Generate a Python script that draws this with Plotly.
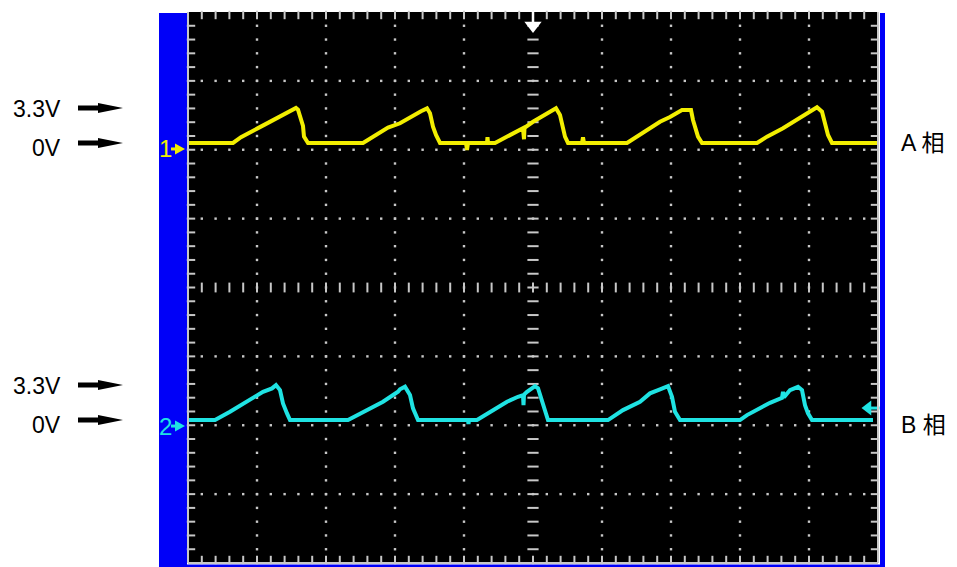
import plotly.graph_objects as go

# ---------------- data ----------------
# time in sample units (0..690 across 10 divisions), voltage in volts
CH1_T = [0, 45, 53, 62, 70, 79, 87, 95, 103, 108, 110, 115, 116, 120,
         175, 183, 192, 200, 212, 218, 225, 233, 239, 242, 245, 248, 252,
         278, 279, 280, 299, 299.5, 300,
         307, 319, 329, 335, 336, 336.5, 345, 359, 368, 372, 375, 377, 380,
         394, 395, 396,
         439, 447, 456, 462, 472, 482, 494, 503, 505, 510, 514,
         569, 579, 595, 612, 622, 629, 634, 637, 640, 644, 690]
CH1_V = [0, 0, 0.55, 1.05, 1.4, 1.85, 2.25, 2.65, 3.1, 3.3, 3.15, 1.6, 0.6, 0,
         0, 0.5, 1.0, 1.45, 1.86, 2.2, 2.64, 3.0, 3.27, 2.8, 1.54, 0.75, 0,
         0, -0.66, 0, 0, 0.54, 0,
         0, 0.6, 1.07, 1.39, 0.35, 1.42, 2.0, 2.8, 3.27, 2.64, 1.39, 0.6, 0,
         0, 0.54, 0,
         0, 0.5, 1.0, 1.39, 2.0, 2.45, 3.1, 3.1, 2.17, 0.6, 0,
         0, 0.6, 1.39, 2.33, 2.95, 3.37, 2.95, 1.86, 0.75, 0, 0]

CH2_T = [0, 27, 42, 59, 75, 84, 88, 92, 95, 99, 102,
         160, 175, 195, 210, 212, 217, 222, 225, 229, 230,
         280, 280.5, 281,
         289, 302, 319, 330, 335, 335.5, 336, 339, 347, 350, 354, 357, 360,
         420, 435, 452, 462, 472, 480, 484, 487, 492,
         552, 559, 569, 582, 594, 595, 596, 602, 610, 614, 617, 620, 624, 685]
CH2_V = [0, 0, 0.78, 1.73, 2.67, 2.99, 3.3, 2.83, 1.57, 0.63, 0,
         0, 0.78, 1.73, 2.67, 2.9, 3.15, 2.36, 1.1, 0.31, 0,
         0, -0.38, 0,
         0, 0.78, 1.73, 2.2, 2.35, 1.41, 2.4, 2.67, 3.2, 3.0, 1.89, 0.78, 0,
         0, 0.94, 1.73, 2.52, 2.9, 3.2, 2.2, 0.78, 0,
         0, 0.47, 1.0, 1.63, 2.1, 2.67, 2.15, 2.83, 3.14, 2.83, 1.41, 0.63, 0, 0]

LEVEL_LABELS = ["3.3V", "0V"]
LEVEL_VALUES = [3.3, 0.0]
PHASE_LABELS = ["A 相", "B 相"]
CHANNEL_NAMES = ["1", "2"]

# ---------------- scope settings ----------------
VDIV = 6.5                   # volts per division (8 divisions tall)
CH_OFFSET = [13.64, -12.51]  # ground position of each channel (screen volts)
COLORS = ["#f2ee00", "#1fe3e3"]
X_RANGE = [0, 690]
Y_RANGE = [-4 * VDIV, 4 * VDIV]

# page geometry (the page body adds an 8px margin)
PAGE_OFF = 8
PL, PR, PT, PB = 188, 878, 12, 563          # plot area in page pixels
W, H = 957 - PAGE_OFF, 567 - PAGE_OFF
PW, PH = PR - PL, PB - PT
ML, MT = PL - PAGE_OFF, PT - PAGE_OFF
MR, MB = W - ML - PW, H - MT - PH
UX = (X_RANGE[1] - X_RANGE[0]) / PW   # data units per pixel (x)
UY = (Y_RANGE[1] - Y_RANGE[0]) / PH   # data units per pixel (y)


def px_x(p):
    return (p - PL) / PW


def px_y(p):
    return (PB - p) / PH


fig = go.Figure()

GRID = "#c8c8c8"
xdiv = (X_RANGE[1] - X_RANGE[0]) / 10
minor_x = xdiv / 5
minor_y = VDIV / 5

# dotted graticule
gx, gy = [], []
for j in (-3, -2, -1, 1, 2, 3):
    for k in range(1, 50):
        gx.append(k * minor_x)
        gy.append(j * VDIV)
for i in (1, 2, 3, 4, 6, 7, 8, 9):
    for k in range(-19, 20):
        gx.append(i * xdiv)
        gy.append(k * minor_y)
fig.add_trace(go.Scatter(x=gx, y=gy, mode="markers", hoverinfo="skip",
                         marker=dict(symbol="square", size=2.4, color=GRID,
                                     line=dict(width=0)), showlegend=False))

# centre cross with minor tick marks
fig.add_trace(go.Scatter(x=[5 * xdiv] * 39, y=[k * minor_y for k in range(-19, 20)],
                         mode="markers", hoverinfo="skip", showlegend=False,
                         marker=dict(symbol="line-ew", size=8,
                                     line=dict(width=2, color=GRID))))
fig.add_trace(go.Scatter(x=[k * minor_x for k in range(1, 50)], y=[0] * 49,
                         mode="markers", hoverinfo="skip", showlegend=False,
                         marker=dict(symbol="line-ns", size=7,
                                     line=dict(width=2, color=GRID))))

# border ticks
tk_x = [k * minor_x for k in range(1, 50)]
tk_y = [k * minor_y for k in range(-19, 20)]
fig.add_trace(go.Scatter(x=tk_x + tk_x, y=[Y_RANGE[1] - 3 * UY] * 49 + [Y_RANGE[0] + 3 * UY] * 49,
                         mode="markers", hoverinfo="skip", showlegend=False, cliponaxis=False,
                         marker=dict(symbol="line-ns", size=6,
                                     line=dict(width=2, color=GRID))))
fig.add_trace(go.Scatter(x=[X_RANGE[0] + 3 * UX] * 39 + [X_RANGE[1] - 3 * UX] * 39, y=tk_y + tk_y,
                         mode="markers", hoverinfo="skip", showlegend=False, cliponaxis=False,
                         marker=dict(symbol="line-ew", size=6,
                                     line=dict(width=2, color=GRID))))

# signal traces
for t, v, off, col in ((CH1_T, CH1_V, CH_OFFSET[0], COLORS[0]),
                       (CH2_T, CH2_V, CH_OFFSET[1], COLORS[1])):
    fig.add_trace(go.Scatter(x=t, y=[off + val for val in v], mode="lines",
                             line=dict(color=col, width=4), hoverinfo="skip",
                             showlegend=False))

# trigger position marker (top, white)
fig.add_trace(go.Scatter(x=[5 * xdiv], y=[Y_RANGE[1] - 5 * UY], mode="markers",
                         cliponaxis=False, hoverinfo="skip", showlegend=False,
                         marker=dict(symbol="line-ns", size=9, line=dict(width=2.5, color="white"))))
fig.add_trace(go.Scatter(x=[5 * xdiv], y=[Y_RANGE[1] - 13.5 * UY], mode="markers",
                         cliponaxis=False, hoverinfo="skip", showlegend=False,
                         marker=dict(symbol="triangle-down", size=15, color="white",
                                     line=dict(width=0))))

# trigger level marker (right, cyan)
trig_y = CH_OFFSET[1] + 12 * UY
fig.add_trace(go.Scatter(x=[X_RANGE[1] - 10 * UX], y=[trig_y], mode="markers",
                         cliponaxis=False, hoverinfo="skip", showlegend=False,
                         marker=dict(symbol="triangle-left", size=13, color=COLORS[1],
                                     line=dict(width=0))))
fig.add_trace(go.Scatter(x=[X_RANGE[1] - 4 * UX], y=[trig_y], mode="markers",
                         cliponaxis=False, hoverinfo="skip", showlegend=False,
                         marker=dict(symbol="line-ew", size=8, line=dict(width=3, color=COLORS[1]))))

shapes = []
annotations = []
BLUE = "#0000f8"
# blue frame outside the screen
shapes.append(dict(type="rect", xref="paper", yref="paper", layer="below",
                   x0=px_x(159), x1=px_x(187), y0=px_y(567), y1=px_y(13),
                   fillcolor=BLUE, line=dict(width=0)))
shapes.append(dict(type="rect", xref="paper", yref="paper", layer="below",
                   x0=px_x(880), x1=px_x(885), y0=px_y(567), y1=px_y(13),
                   fillcolor=BLUE, line=dict(width=0)))
shapes.append(dict(type="rect", xref="paper", yref="paper", layer="below",
                   x0=px_x(159), x1=px_x(885), y0=px_y(567), y1=px_y(564.5),
                   fillcolor=BLUE, line=dict(width=0)))
# grey screen border (left, right, bottom)
for x0, y0, x1, y1 in ((0, 0, 0, 1), (1, 0, 1, 1), (0, 0, 1, 0)):
    shapes.append(dict(type="line", xref="paper", yref="paper", x0=x0, y0=y0, x1=x1, y1=y1,
                       line=dict(color=GRID, width=2)))

# channel ground markers on the left bar ("1 ▸", "2 ▸")
for name, off, col in zip(CHANNEL_NAMES, CH_OFFSET, COLORS):
    ym = off - 6 * UY
    tri = (f"M {px_x(175)},{ym + 5.5 * UY} L {px_x(185)},{ym} L {px_x(175)},{ym - 5.5 * UY} Z")
    shapes.append(dict(type="path", xref="paper", yref="y", path=tri,
                       fillcolor=col, line=dict(width=0)))
    shapes.append(dict(type="line", xref="paper", yref="y", x0=px_x(171), x1=px_x(177),
                       y0=ym, y1=ym, line=dict(color=col, width=3)))
    annotations.append(dict(x=px_x(165.5), xref="paper", y=ym, yref="y", text=name,
                            showarrow=False, xanchor="center", yanchor="middle",
                            font=dict(family="Liberation Sans, Arial", size=24, color=col)))

# level arrows and labels on the left
ax0, ax1, ax2 = px_x(78), px_x(98), px_x(123)
hs, hh = 2.5 * UY, 5 * UY
for ci, off in enumerate(CH_OFFSET):
    for lab, lv, ysh in zip(LEVEL_LABELS, LEVEL_VALUES, (-1, -5)):
        yc = off + lv
        path = (f"M {ax0},{yc - hs} L {ax1},{yc - hs} L {ax1},{yc - hh} L {ax2},{yc} "
                f"L {ax1},{yc + hh} L {ax1},{yc + hs} L {ax0},{yc + hs} Z")
        shapes.append(dict(type="path", xref="paper", yref="y", path=path,
                           fillcolor="black", line=dict(width=0)))
        annotations.append(dict(x=px_x(63), xref="paper", y=yc, yref="y", yshift=ysh,
                                text=lab, showarrow=False, xanchor="right", yanchor="middle",
                                font=dict(family="Liberation Sans, Arial", size=23, color="black")))
    annotations.append(dict(x=px_x(899), xref="paper", y=off, yref="y",
                            yshift=(0 if ci == 0 else -5),
                            text=PHASE_LABELS[ci], showarrow=False, xanchor="left", yanchor="middle",
                            font=dict(family="Liberation Sans, Arial, Noto Sans CJK SC",
                                      size=23, color="black")))

for a in annotations:
    fig.add_annotation(**a)

fig.update_layout(
    width=W, height=H, autosize=False,
    margin=dict(l=ML, r=MR, t=MT, b=MB, pad=0),
    paper_bgcolor="white", plot_bgcolor="black",
    shapes=shapes, showlegend=False,
    xaxis=dict(range=X_RANGE, showgrid=False, zeroline=False, showticklabels=False,
               ticks="", showline=False, fixedrange=True),
    yaxis=dict(range=Y_RANGE, showgrid=False, zeroline=False, showticklabels=False,
               ticks="", showline=False, fixedrange=True),
)

fig.write_html("out.html")
